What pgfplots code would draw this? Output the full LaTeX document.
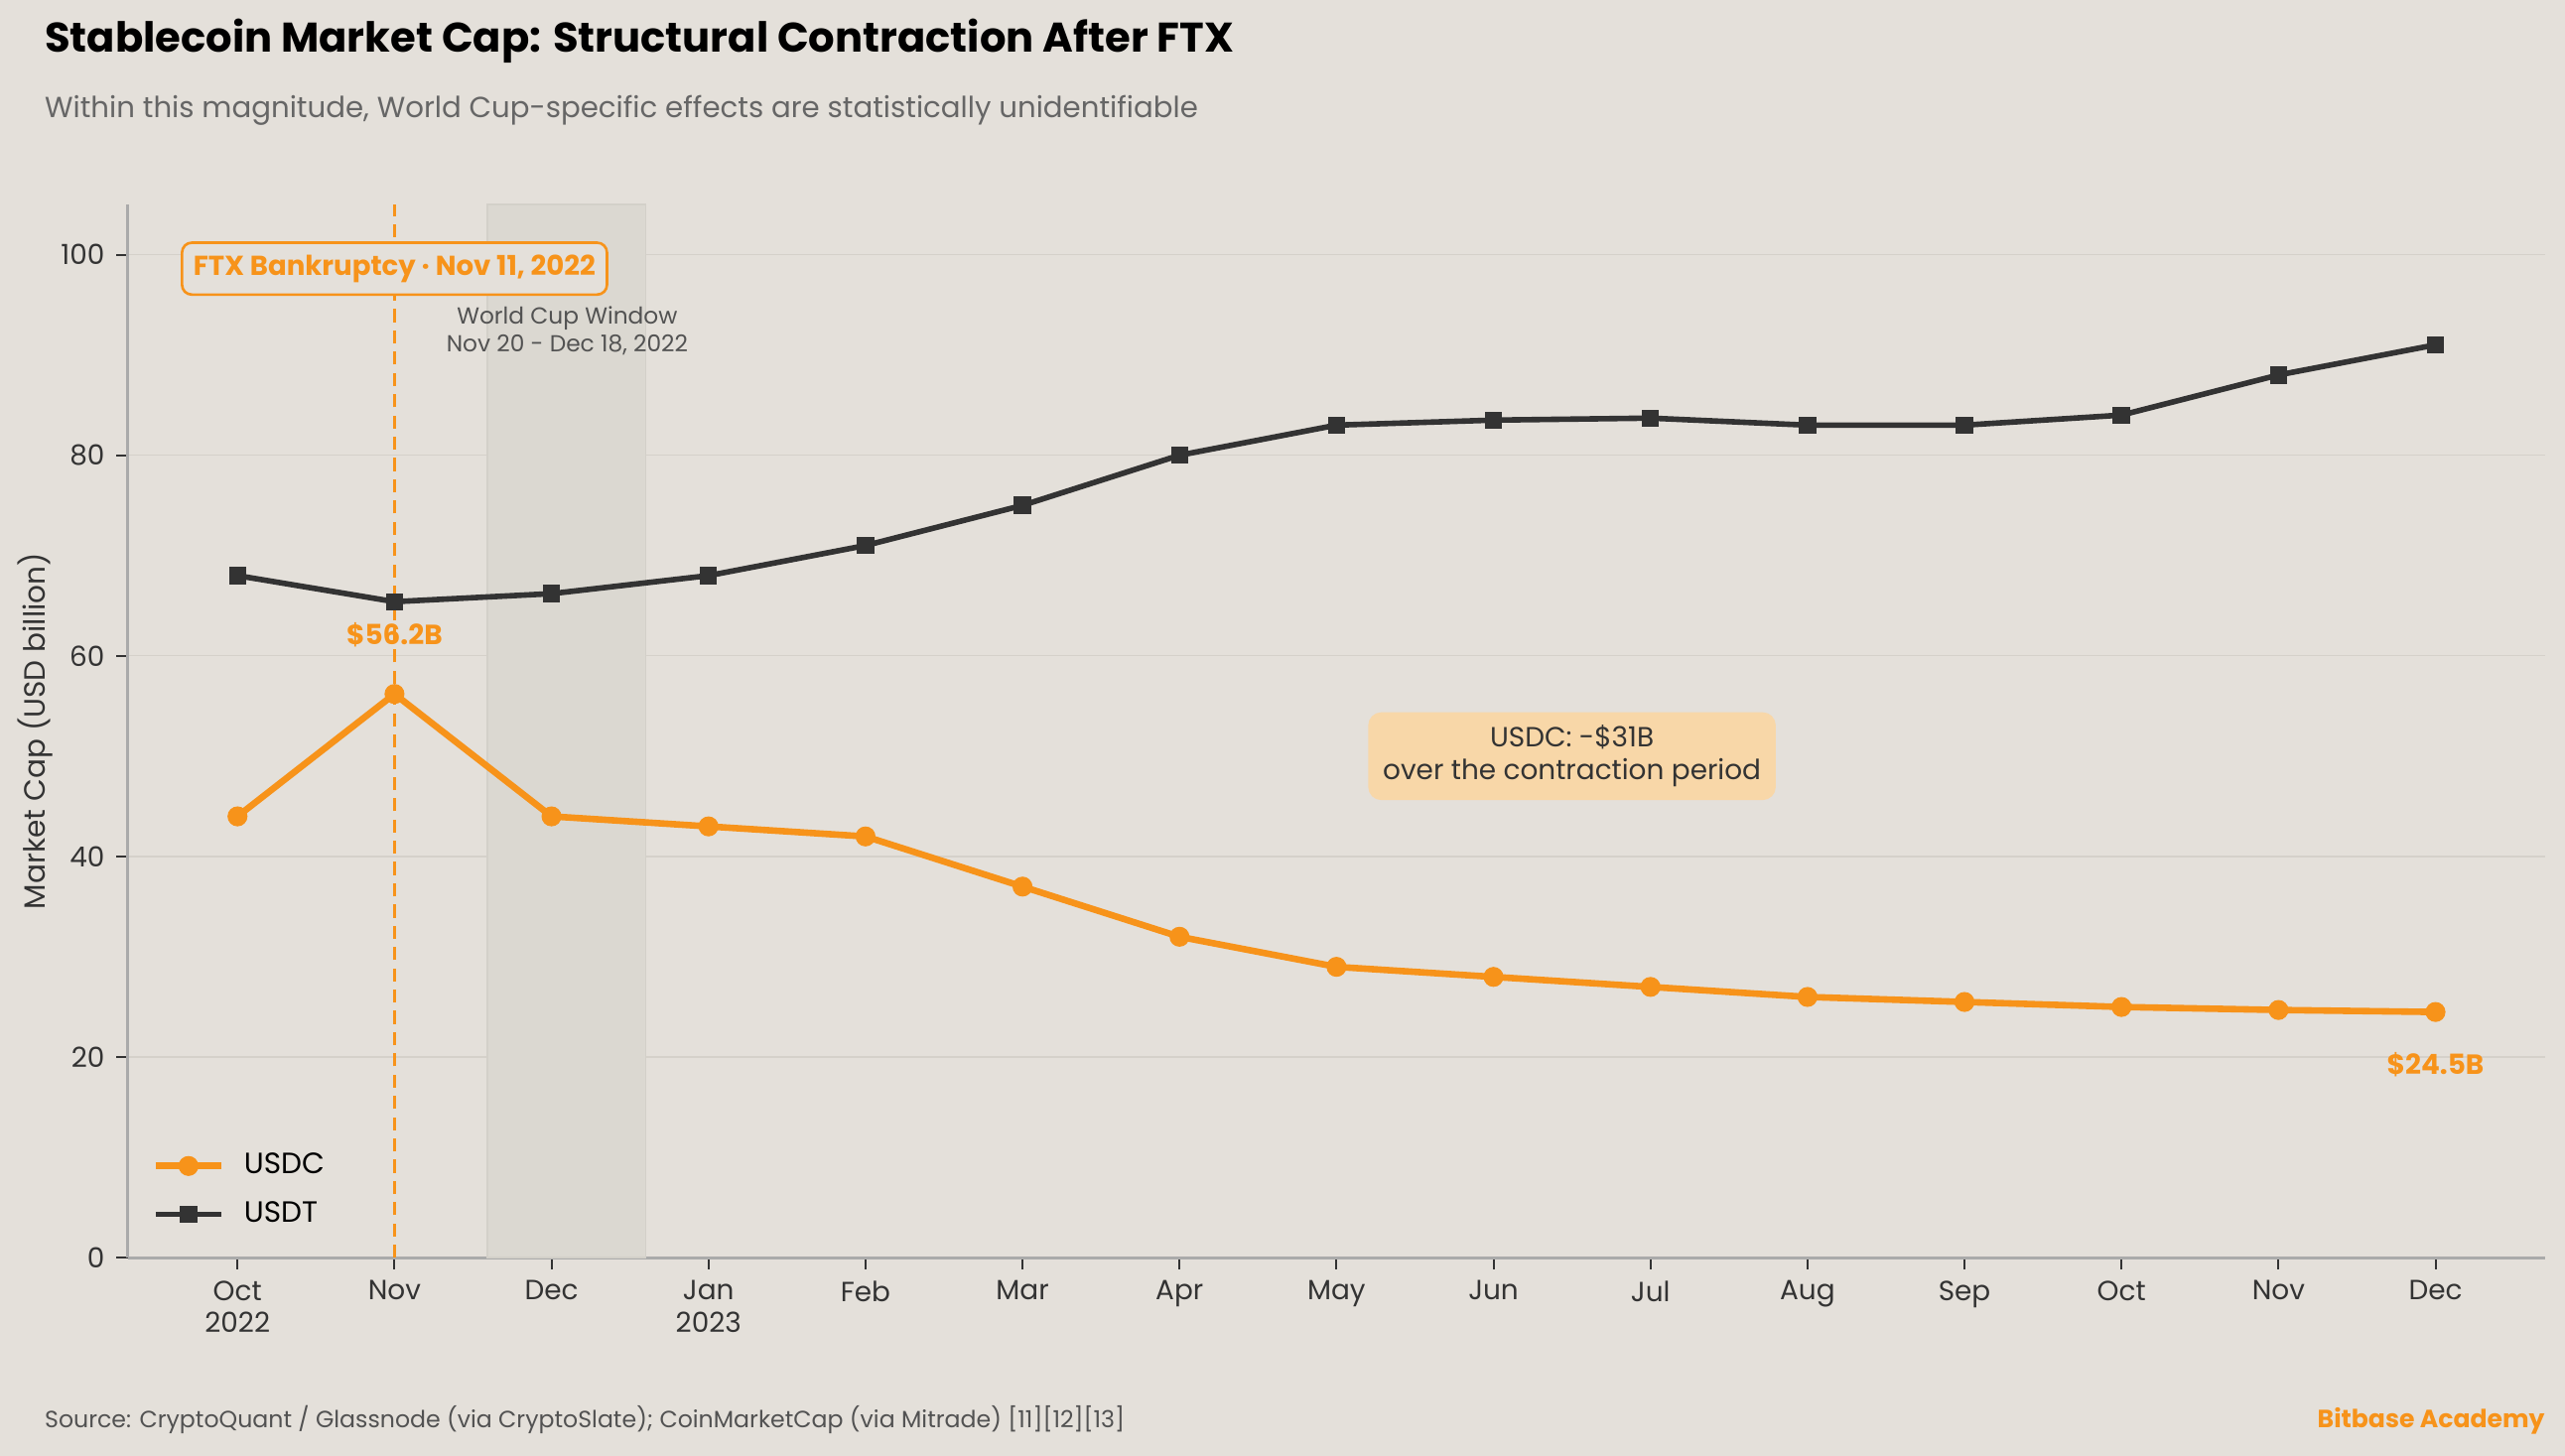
\documentclass[border=0pt]{standalone}
\usepackage{fontspec}
\setmainfont{Poppins}
\usepackage{pgfplots}
\pgfplotsset{compat=1.18}
\definecolor{bg}{HTML}{E4E0DA}
\definecolor{orng}{HTML}{F7931A}
\definecolor{dark}{HTML}{333333}
\definecolor{band}{HTML}{DBD8D1}
\definecolor{bandedge}{HTML}{D3D0C9}
\definecolor{boxfill}{HTML}{F8D7A8}
\definecolor{axisgray}{HTML}{AAAAAA}
\definecolor{gridc}{HTML}{D5D1CA}
\definecolor{subgray}{HTML}{666666}
\begin{document}
\begin{tikzpicture}
\fill[bg] (0,0) rectangle (784bp,445bp);
\begin{axis}[
  at={(39bp,60.5bp)}, anchor=south west, scale only axis,
  width=739bp, height=322bp,
  xmin=-0.7, xmax=14.7, ymin=0, ymax=105,
  axis x line*=bottom, axis y line*=left,
  axis line style={axisgray, line width=0.8pt},
  tick align=outside,
  major tick length=3.5bp,
  tick style={dark, line width=0.6pt},
  xtick={0,...,14},
  xticklabels={{Oct\\2022},Nov,Dec,{Jan\\2023},Feb,Mar,Apr,May,Jun,Jul,Aug,Sep,Oct,Nov,Dec},
  xticklabel style={align=center, font=\fontsize{8.5}{10}\selectfont, text=dark},
  ytick={0,20,40,60,80,100},
  yticklabel style={font=\fontsize{8.5}{10}\selectfont, text=dark},
  /pgf/number format/assume math mode=true,
  ymajorgrids, grid style={gridc, line width=0.4pt},
  ylabel={Market Cap (USD billion)},
  every axis y label/.style={at={(axis description cs:-0.038,0.5)}, rotate=90, anchor=center, font=\fontsize{9}{10}\selectfont, text=dark},
  legend style={at={(0.006,0.016)}, anchor=south west, draw=none, fill=none, font=\fontsize{9}{10}\selectfont, row sep=3bp, /tikz/every odd column/.style={column sep=4bp}},
  legend cell align=left,
  legend image code/.code={\draw[mark repeat=2, mark phase=2, #1] plot coordinates {(0bp,0bp) (10bp,0bp) (20bp,0bp)};},
  clip=false,
]
\fill[band, draw=bandedge, line width=0.5pt] (axis cs:1.59,0) rectangle (axis cs:2.6,105);
\draw[orng, line width=1pt, dash pattern=on 4bp off 2.5bp] (axis cs:1,0) -- (axis cs:1,105);

\addplot[orng, line width=2bp, mark=*, mark size=2.9bp, mark options={solid, fill=orng, line width=0.3pt}] coordinates {
(0,44) (1,56.2) (2,44) (3,43) (4,42) (5,37) (6,32) (7,29) (8,28) (9,27) (10,26) (11,25.5) (12,25) (13,24.7) (14,24.5)
};
\addlegendentry{USDC}
\addplot[dark, line width=1.7bp, mark=square*, mark size=2.5bp, mark options={solid, fill=dark, line width=0.3pt}] coordinates {
(0,68) (1,65.4) (2,66.2) (3,68) (4,71) (5,75) (6,80) (7,83) (8,83.5) (9,83.7) (10,83) (11,83) (12,84) (13,88) (14,91)
};
\addlegendentry{USDT}

\node[draw=orng, rounded corners=3bp, fill=bg, text=orng, line width=0.8pt, inner xsep=3.5bp, inner ysep=3.7bp, font=\bfseries\fontsize{8.4}{9}\selectfont] at (axis cs:1,98.6) {FTX Bankruptcy · Nov 11, 2022};
\node[align=center, text=dark!85, font=\fontsize{7.1}{8.4}\selectfont] at (axis cs:2.1,92.4) {World Cup Window\\Nov 20 - Dec 18, 2022};
\node[text=orng, font=\bfseries\fontsize{8.5}{10}\selectfont] at (axis cs:1,62.1) {\$56.2B};
\node[text=orng, font=\bfseries\fontsize{8.5}{10}\selectfont] at (axis cs:14,19.3) {\$24.5B};
\node[fill=boxfill, rounded corners=4bp, align=center, text=dark, inner xsep=4.5bp, inner ysep=4bp, font=\fontsize{8.5}{10}\selectfont] at (axis cs:8.5,50) {USDC: -\$31B\\over the contraction period};
\end{axis}
\node[inner sep=0pt, anchor=base west, font=\bfseries\fontsize{12.7}{15}\selectfont, text=black] at (13.5bp,429bp) {Stablecoin Market Cap: Structural Contraction After FTX};
\node[inner sep=0pt, anchor=base west, font=\fontsize{8.9}{11}\selectfont, text=subgray] at (13.5bp,409bp) {Within this magnitude, World Cup-specific effects are statistically unidentifiable};
\node[inner sep=0pt, anchor=base west, font=\fontsize{7.2}{8}\selectfont, text=dark!85] at (13.5bp,8.5bp) {Source: CryptoQuant / Glassnode (via CryptoSlate); CoinMarketCap (via Mitrade) [11][12][13]};
\node[inner sep=0pt, anchor=base east, font=\bfseries\fontsize{7.65}{8}\selectfont, text=orng] at (778bp,8.5bp) {Bitbase Academy};
\end{tikzpicture}
\end{document}
